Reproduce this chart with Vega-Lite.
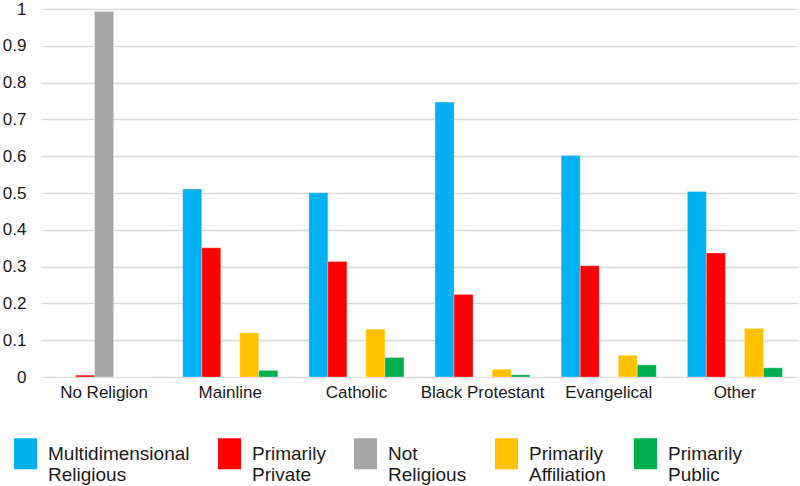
{
  "$schema": "https://vega.github.io/schema/vega-lite/v6.json",
  "autosize": "none",
  "width": 757,
  "height": 368,
  "padding": {"left": 41, "top": 9, "right": 2, "bottom": 109},
  "background": "white",
  "data": {
    "values": [
      {"category": "No Religion", "type": "Multidimensional Religious", "value": 0},
      {"category": "No Religion", "type": "Primarily Private", "value": 0.005},
      {"category": "No Religion", "type": "Not Religious", "value": 0.993},
      {"category": "No Religion", "type": "Primarily Affiliation", "value": 0},
      {"category": "No Religion", "type": "Primarily Public", "value": 0},
      {"category": "Mainline", "type": "Multidimensional Religious", "value": 0.511},
      {"category": "Mainline", "type": "Primarily Private", "value": 0.351},
      {"category": "Mainline", "type": "Not Religious", "value": 0},
      {"category": "Mainline", "type": "Primarily Affiliation", "value": 0.120},
      {"category": "Mainline", "type": "Primarily Public", "value": 0.018},
      {"category": "Catholic", "type": "Multidimensional Religious", "value": 0.501},
      {"category": "Catholic", "type": "Primarily Private", "value": 0.314},
      {"category": "Catholic", "type": "Not Religious", "value": 0},
      {"category": "Catholic", "type": "Primarily Affiliation", "value": 0.130},
      {"category": "Catholic", "type": "Primarily Public", "value": 0.053},
      {"category": "Black Protestant", "type": "Multidimensional Religious", "value": 0.747},
      {"category": "Black Protestant", "type": "Primarily Private", "value": 0.224},
      {"category": "Black Protestant", "type": "Not Religious", "value": 0},
      {"category": "Black Protestant", "type": "Primarily Affiliation", "value": 0.021},
      {"category": "Black Protestant", "type": "Primarily Public", "value": 0.006},
      {"category": "Evangelical", "type": "Multidimensional Religious", "value": 0.602},
      {"category": "Evangelical", "type": "Primarily Private", "value": 0.302},
      {"category": "Evangelical", "type": "Not Religious", "value": 0},
      {"category": "Evangelical", "type": "Primarily Affiliation", "value": 0.059},
      {"category": "Evangelical", "type": "Primarily Public", "value": 0.033},
      {"category": "Other", "type": "Multidimensional Religious", "value": 0.504},
      {"category": "Other", "type": "Primarily Private", "value": 0.337},
      {"category": "Other", "type": "Not Religious", "value": 0},
      {"category": "Other", "type": "Primarily Affiliation", "value": 0.132},
      {"category": "Other", "type": "Primarily Public", "value": 0.025}
    ]
  },
  "mark": {"type": "bar", "stroke": "white", "strokeWidth": 0.5, "strokeOpacity": 0.6},
  "encoding": {
    "x": {
      "field": "category",
      "type": "nominal",
      "sort": ["No Religion", "Mainline", "Catholic", "Black Protestant", "Evangelical", "Other"],
      "scale": {"paddingInner": 0.246, "paddingOuter": 0.123},
      "axis": {
        "title": null,
        "labelAngle": 0,
        "ticks": false,
        "domain": false,
        "labelPadding": 7,
        "labelFont": "Liberation Sans",
        "labelFontSize": 17,
        "labelColor": "#1a1a1a",
        "grid": false
      }
    },
    "xOffset": {
      "field": "type",
      "type": "nominal",
      "sort": ["Multidimensional Religious", "Primarily Private", "Not Religious", "Primarily Affiliation", "Primarily Public"],
      "scale": {"paddingInner": 0, "paddingOuter": 0}
    },
    "y": {
      "field": "value",
      "type": "quantitative",
      "scale": {"domain": [0, 1], "nice": false},
      "axis": {
        "title": null,
        "values": [0, 0.1, 0.2, 0.3, 0.4, 0.5, 0.6, 0.7, 0.8, 0.9, 1],
        "labelExpr": "datum.value == 0 ? '0' : datum.value == 1 ? '1' : format(datum.value, '.1f')",
        "ticks": false,
        "domain": false,
        "labelPadding": 15,
        "labelFont": "Liberation Sans",
        "labelFontSize": 17,
        "labelColor": "#1a1a1a",
        "gridColor": "#D9D9D9",
        "gridWidth": 1.5
      }
    },
    "color": {
      "field": "type",
      "type": "nominal",
      "sort": ["Multidimensional Religious", "Primarily Private", "Not Religious", "Primarily Affiliation", "Primarily Public"],
      "scale": {
        "domain": ["Multidimensional Religious", "Primarily Private", "Not Religious", "Primarily Affiliation", "Primarily Public"],
        "range": ["#00B0F0", "#FF0000", "#A5A5A5", "#FFC000", "#00B050"]
      },
      "legend": {
        "title": null,
        "orient": "none",
        "direction": "horizontal",
        "columns": 5,
        "legendX": -27,
        "legendY": 433,
        "padding": 0,
        "symbolType": "M-1,-1.348H1V1.348H-1Z",
        "symbolSize": 529,
        "symbolStrokeWidth": 0,
        "symbolOpacity": 1,
        "labelOffset": 11,
        "columnPadding": 28,
        "labelFont": "Liberation Sans",
        "labelFontSize": 19,
        "labelColor": "#1a1a1a",
        "labelLimit": 250,
        "labelExpr": "split(datum.label, ' ')",
        "encode": {"labels": {"update": {"lineHeight": {"value": 23.5}}}}
      }
    }
  },
  "config": {"view": {"stroke": null}}
}
